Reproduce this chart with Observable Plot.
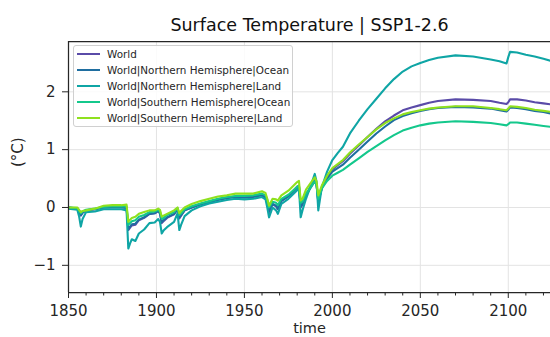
<!DOCTYPE html>
<html>
<head>
<meta charset="utf-8">
<script src="https://cdn.jsdelivr.net/npm/d3@7"></script>
<script src="https://cdn.jsdelivr.net/npm/@observablehq/plot@0.6"></script>
<style>
  html, body { margin: 0; padding: 0; background: #fff; }
  #wrap { position: relative; width: 550px; height: 337px; overflow: hidden; font-family: "DejaVu Sans", sans-serif; }
  #legend { position: absolute; left: 73px; top: 45px; width: 220px; height: 82px; border: 1px solid #d0d0d0; border-radius: 3px; background: rgba(255,255,255,0.85); box-sizing: border-box; padding: 0 0 0 3px; }
  .row { display: flex; align-items: center; height: 16px; font-size: 10.4px; color: #262626; white-space: nowrap; }
  .sw { width: 23px; height: 0; border-top: 2px solid; margin-right: 7px; }
</style>
</head>
<body>
<div id="wrap"></div>
<script>
const title = "Surface Temperature | SSP1-2.6";
const seriesNames = [
  "World",
  "World|Northern Hemisphere|Ocean",
  "World|Northern Hemisphere|Land",
  "World|Southern Hemisphere|Ocean",
  "World|Southern Hemisphere|Land"
];
const seriesColors = ["#5a4ba8", "#1f6ea0", "#0fa5a5", "#14c88c", "#8fe11e"];
const xTicks = [1850, 1900, 1950, 2000, 2050, 2100];
const yTicks = [-1, 0, 1, 2];

const years = [1850,1855,1856,1857,1858,1860,1865,1870,1875,1880,
  1883,1884,1885,1886,1888,1890,1893,1896,1899,1901,
  1902,1903,1904,1906,1910,1912,1913,1914,1916,1920,
  1925,1930,1935,1940,1945,1950,1955,1960,1962,1963,
  1964,1966,1968,1969,1971,1975,1980,1981,1982,1983,
  1985,1988,1990,1991,1992,1994,1997,2000,2003,2006,
  2010,2015,2020,2025,2030,2035,2040,2045,2050,2055,
  2060,2070,2080,2090,2095,2099,2100,2101,2105,2110,
  2115,2120,2125];

const world = [0.0,-0.02,-0.07,-0.14,-0.09,-0.05,-0.03,0.0,0.01,0.01,
  0.0,-0.39,-0.35,-0.31,-0.30,-0.22,-0.18,-0.11,-0.10,-0.06,
  -0.10,-0.27,-0.24,-0.18,-0.12,-0.03,-0.19,-0.14,-0.05,0.0,
  0.06,0.10,0.14,0.17,0.19,0.18,0.19,0.22,0.18,0.08,
  -0.08,0.06,0.02,-0.03,0.12,0.20,0.36,0.38,0.0,0.05,
  0.22,0.38,0.48,0.40,0.09,0.35,0.52,0.66,0.73,0.80,
  0.93,1.07,1.22,1.36,1.49,1.59,1.68,1.73,1.77,1.81,
  1.84,1.87,1.86,1.84,1.81,1.79,1.82,1.87,1.87,1.85,
  1.82,1.80,1.78];

const nhOcean = [0.0,-0.02,-0.06,-0.13,-0.09,-0.05,-0.03,0.0,0.0,0.0,
  -0.01,-0.37,-0.33,-0.29,-0.28,-0.21,-0.17,-0.11,-0.10,-0.06,
  -0.10,-0.25,-0.22,-0.17,-0.11,-0.03,-0.17,-0.13,-0.05,0.0,
  0.05,0.09,0.13,0.16,0.18,0.17,0.18,0.21,0.17,0.08,
  -0.06,0.06,0.03,-0.02,0.11,0.19,0.34,0.36,0.02,0.06,
  0.21,0.36,0.46,0.39,0.10,0.33,0.50,0.62,0.68,0.74,
  0.86,1.00,1.14,1.28,1.40,1.51,1.58,1.63,1.67,1.70,
  1.72,1.74,1.73,1.71,1.68,1.66,1.69,1.73,1.72,1.70,
  1.67,1.65,1.62];

const nhLand = [-0.02,-0.04,-0.15,-0.33,-0.20,-0.08,-0.07,-0.03,-0.03,-0.03,
  -0.05,-0.71,-0.62,-0.55,-0.58,-0.45,-0.38,-0.27,-0.26,-0.20,
  -0.25,-0.45,-0.40,-0.34,-0.25,-0.10,-0.39,-0.30,-0.15,-0.05,
  0.02,0.07,0.10,0.13,0.15,0.14,0.15,0.18,0.14,0.0,
  -0.17,0.0,-0.05,-0.11,0.06,0.15,0.30,0.34,-0.17,-0.05,
  0.15,0.40,0.58,0.45,-0.05,0.35,0.62,0.82,0.94,1.05,
  1.28,1.50,1.70,1.88,2.06,2.22,2.35,2.44,2.50,2.55,
  2.59,2.63,2.61,2.56,2.53,2.49,2.60,2.69,2.68,2.64,
  2.61,2.57,2.53];

const shOcean = [0.0,-0.01,-0.05,-0.10,-0.07,-0.04,-0.02,0.01,0.02,0.02,
  0.02,-0.30,-0.27,-0.24,-0.22,-0.16,-0.13,-0.08,-0.07,-0.04,
  -0.07,-0.20,-0.18,-0.13,-0.08,-0.01,-0.13,-0.10,-0.03,0.02,
  0.07,0.11,0.15,0.18,0.20,0.20,0.21,0.24,0.21,0.13,
  0.0,0.10,0.08,0.04,0.15,0.22,0.36,0.38,0.08,0.10,
  0.24,0.36,0.45,0.40,0.15,0.33,0.46,0.55,0.60,0.65,
  0.74,0.85,0.96,1.06,1.16,1.25,1.33,1.38,1.42,1.45,
  1.47,1.49,1.48,1.46,1.44,1.42,1.44,1.47,1.47,1.45,
  1.43,1.41,1.39];

const shLand = [0.0,0.0,-0.04,-0.08,-0.06,-0.05,-0.02,0.03,0.04,0.04,
  0.05,-0.25,-0.21,-0.18,-0.16,-0.11,-0.08,-0.05,-0.05,-0.02,
  -0.04,-0.16,-0.14,-0.11,-0.05,0.0,-0.10,-0.06,0.0,0.06,
  0.11,0.15,0.19,0.21,0.24,0.24,0.24,0.28,0.25,0.15,
  0.03,0.15,0.14,0.12,0.21,0.29,0.44,0.46,0.12,0.15,
  0.31,0.44,0.52,0.45,0.21,0.38,0.55,0.68,0.75,0.82,
  0.95,1.09,1.22,1.35,1.46,1.54,1.61,1.65,1.68,1.71,
  1.73,1.75,1.75,1.72,1.70,1.68,1.71,1.75,1.74,1.72,
  1.69,1.67,1.65];

const seriesValues = [world, nhOcean, nhLand, shOcean, shLand];
const rows = seriesNames.flatMap((name, i) =>
  years.map((t, j) => ({name, time: t, value: seriesValues[i][j]})));

const xDomain = [1850, 2124];
const yDomain = [-1.47, 2.87];
const font = "DejaVu Sans";
const fmtY = d => (d < 0 ? "\u2212" + Math.abs(d) : String(d));

const chart = Plot.plot({
  width: 550,
  height: 337,
  marginLeft: 68,
  marginRight: 0,
  marginTop: 41,
  marginBottom: 45,
  style: {fontFamily: font, background: "white", color: "#262626", overflow: "visible"},
  x: {domain: xDomain},
  y: {domain: yDomain},
  color: {domain: seriesNames, range: seriesColors},
  marks: [
    Plot.gridX(xTicks, {stroke: "#e3e3e3", strokeOpacity: 1, strokeWidth: 1}),
    Plot.gridY(yTicks, {stroke: "#e3e3e3", strokeOpacity: 1, strokeWidth: 1}),
    Plot.lineY(rows, {x: "time", y: "value", z: "name", stroke: "name", strokeWidth: 2.1, clip: true}),
    Plot.ruleX([xDomain[0]], {stroke: "#262626", strokeWidth: 1.25}),
    Plot.ruleY([yDomain[0], yDomain[1]], {stroke: "#262626", strokeWidth: 1.25}),
    Plot.axisX(d3.range(1860, 2124, 10).filter(d => d % 50 !== 0), {tickSize: 3.5, text: null, label: null, stroke: "#262626"}),
    Plot.axisX(xTicks, {tickSize: 6, tickPadding: 7, fontSize: 15, label: null, tickFormat: d => String(d), stroke: "#262626", fill: "#262626"}),
    Plot.axisY(yTicks, {tickSize: 6, tickPadding: 7, fontSize: 15, label: null, tickFormat: fmtY, stroke: "#262626", fill: "#262626"}),
    Plot.text([title], {frameAnchor: "top", lineAnchor: "middle", dy: -16, fontSize: 17.5, fill: "#111"}),
    Plot.text(["time"], {frameAnchor: "bottom", lineAnchor: "middle", dy: 36, fontSize: 14.5, fill: "#262626"}),
    Plot.text(["(°C)"], {frameAnchor: "left", dx: -50, rotate: -90, fontSize: 15, fill: "#262626"})
  ]
});

const wrap = document.getElementById("wrap");
wrap.appendChild(chart);

const legend = document.createElement("div");
legend.id = "legend";
seriesNames.forEach((name, i) => {
  const r = document.createElement("div");
  r.className = "row";
  const sw = document.createElement("span");
  sw.className = "sw";
  sw.style.borderTopColor = seriesColors[i];
  const tx = document.createElement("span");
  tx.textContent = name;
  r.appendChild(sw);
  r.appendChild(tx);
  legend.appendChild(r);
});
wrap.appendChild(legend);
</script>
</body>
</html>
